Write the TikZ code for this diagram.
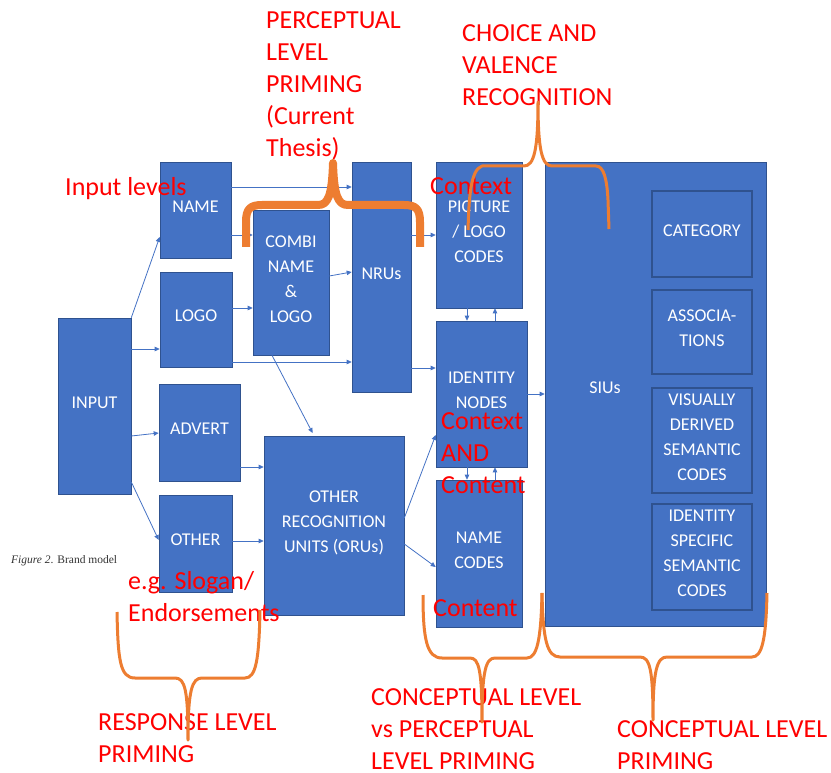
\documentclass[tikz,border=0pt]{standalone}
\usepackage{fontspec}
\setmainfont{Carlito}
\newfontfamily\capfont{Liberation Serif}
\usetikzlibrary{arrows.meta}
\definecolor{boxblue}{HTML}{4472C4}
\definecolor{boxedge}{HTML}{2F528F}
\definecolor{bracketorange}{HTML}{ED7D31}
\definecolor{annred}{HTML}{FF0000}
\tikzset{
  box/.style={rectangle, fill=boxblue, draw=boxedge, line width=0.6pt, inner sep=0pt,
    text=white, align=center, font=\fontsize{18}{25}\selectfont,
    execute at end node={\rule[-7pt]{0pt}{7pt}}},
  innerbox/.style={box, line width=1.4pt},
  arr/.style={draw=boxblue, line width=0.8pt, -{Triangle[length=5pt,width=4.5pt]}},
  redtxt/.style={text=annred, align=left, inner sep=0pt, anchor=north west,
    font=\fontsize{26}{32}\selectfont},
  brace/.style={draw=bracketorange, line width=3pt, line join=round},
  bigbrace/.style={draw=bracketorange, line width=8pt, line join=round},
}
\begin{document}
\begin{tikzpicture}[x=1pt,y=-1pt]
\useasboundingbox (0,0) rectangle (831,773);
% boxes
\node[box, minimum width=73pt, minimum height=176pt] (input) at (94.5,406) {INPUT};
\node[box, minimum width=71pt, minimum height=96pt] (name) at (195.5,210) {NAME};
\node[box, minimum width=72pt, minimum height=95pt] (logo) at (196,319.5) {LOGO};
\node[box, minimum width=81pt, minimum height=97pt] (advert) at (199.5,432.5) {ADVERT};
\node[box, minimum width=73pt, minimum height=97pt] (other) at (195.5,543.5) {OTHER};
\node[box, minimum width=76pt, minimum height=145pt] (combi) at (291,282.5) {COMBI\\NAME\\\&\\LOGO};
\node[box, minimum width=59pt, minimum height=230pt] (nru) at (381.5,277) {NRUs};
\node[box, minimum width=140pt, minimum height=179pt] (oru) at (334,525.5) {OTHER\\RECOGNITION\\UNITS (ORUs)};
\node[box, minimum width=86pt, minimum height=146pt] (pict) at (479,235) {PICTURE\\/ LOGO\\CODES};
\node[box, minimum width=91pt, minimum height=146pt] (ident) at (481.5,394) {IDENTITY\\NODES};
\node[box, minimum width=86pt, minimum height=147pt] (namec) at (479,553.5) {NAME\\CODES};
\node[box, minimum width=221pt, minimum height=464pt] (siu) at (655.5,394) {};
\node[text=white, font=\fontsize{18}{25}\selectfont, inner sep=0pt] (siulabel) at (605,388) {SIUs};
\node[innerbox, minimum width=100pt, minimum height=86pt] (cat) at (702,234) {CATEGORY};
\node[innerbox, minimum width=100pt, minimum height=84pt] (assoc) at (702,332) {ASSOCIA-\\TIONS};
\node[innerbox, minimum width=100pt, minimum height=105pt] (vis) at (702,440.5) {VISUALLY\\DERIVED\\SEMANTIC\\CODES};
\node[innerbox, minimum width=100pt, minimum height=106pt] (ids) at (702,557) {IDENTITY\\SPECIFIC\\SEMANTIC\\CODES};
% caption
\node[anchor=west, inner sep=0pt, text=black!80, font=\capfont\fontsize{11.5}{13}\selectfont] (caption) at (11,561) {\textit{Figure 2}. Brand model};
% connectors
\draw[arr] (input.north east) -- (name.west |- 0,237);
\draw[arr] (input.east |- 0,349) -- (logo.west |- 0,349);
\draw[arr] (input.east |- 0,436) -- (advert.west |- 0,433);
\draw[arr] (input.east |- 0,482) -- (other.west |- 0,540);
\draw[arr] (name.east |- 0,187) -- (nru.west |- 0,187);
\draw[arr] (name.east |- 0,235) -- (combi.west |- 0,235);
\draw[arr] (logo.east |- 0,308) -- (combi.west |- 0,308);
\draw[arr] (logo.east |- 0,362) -- (nru.west |- 0,362);
\draw[arr] (combi.east |- 0,276) -- (nru.west |- 0,272);
\draw[arr, shorten >=3pt] (combi.south -| 272,0) -- (oru.north -| 314,0);
\draw[arr] (nru.east |- 0,235) -- (pict.west |- 0,235);
\draw[arr] (nru.east |- 0,368) -- (ident.west |- 0,368);
\draw[arr] (pict.south -| 467,0) -- (ident.north -| 467,0);
\draw[arr] (ident.north -| 495,0) -- (pict.south -| 495,0);
\draw[arr] (ident.east |- 0,394) -- (siu.west |- 0,394);
\draw[arr] (ident.south -| 467,0) -- (namec.north -| 467,0);
\draw[arr] (namec.north -| 495,0) -- (ident.south -| 495,0);
\draw[arr] (advert.east |- 0,467) -- (oru.west |- 0,467);
\draw[arr] (other.east |- 0,541) -- (oru.west |- 0,541);
\draw[arr] (oru.east |- 0,518) -- (ident.west |- 0,435);
\draw[arr] (oru.east |- 0,544) -- (namec.west |- 0,567);
% red annotations
\node[redtxt] (tperc) at (266,11.5) {PERCEPTUAL\\LEVEL\\PRIMING\\(Current\\Thesis)};
\node[redtxt] (tchoice) at (462,24.5) {CHOICE AND\\VALENCE\\RECOGNITION};
\node[redtxt] (tinput) at (65,177) {Input levels};
\node[redtxt] (tctx) at (430,177) {Context};
\node[redtxt] (tctxand) at (441,412) {Context\\AND\\Content};
\node[redtxt] (tcontent) at (433,599) {Content};
\node[redtxt] (tslogan) at (128,571) {e.g. Slogan/\\Endorsements};
\node[redtxt] (tresp) at (98,713) {RESPONSE LEVEL\\PRIMING};
\node[redtxt] (tcvp) at (371,688.5) {CONCEPTUAL LEVEL\\vs PERCEPTUAL\\LEVEL PRIMING};
\node[redtxt] (tconc) at (617,720.5) {CONCEPTUAL LEVEL\\PRIMING};
% orange brackets
\draw[bigbrace] (246,247) -- (246,222) .. controls (246,209) and (250,205) .. (262,205) -- (318,205) .. controls (328,205) and (332,196) .. (333,163) .. controls (334,196) and (338,205) .. (348,205) -- (404,205) .. controls (416,205) and (420,209) .. (420,222) -- (420,247);
\draw[brace] (468,230) .. controls (469,200) and (470,170) .. (482,166) -- (524,166) .. controls (534,166) and (538,150) .. (538,102) .. controls (538,150) and (542,166) .. (552,166) -- (596,166) .. controls (604,166) and (607,180) .. (608,200) -- (609,229);
\draw[brace] (117,612) .. controls (118,660) and (120,678) .. (135,678) -- (175,678) .. controls (185,678) and (188,690) .. (188,740) .. controls (188,690) and (192,678) .. (202,678) -- (245,678) .. controls (256,678) and (259,660) .. (260,610);
\draw[brace] (423,595) .. controls (423,640) and (427,658) .. (442,658) -- (470,658) .. controls (479,658) and (482,670) .. (482,722) .. controls (482,670) and (486,658) .. (495,658) -- (527,658) .. controls (537,658) and (541,640) .. (542,593);
\draw[brace] (542,593) .. controls (543,640) and (547,657) .. (560,657) -- (640,657) .. controls (650,657) and (653,670) .. (653,720) .. controls (653,670) and (657,657) .. (667,657) -- (752,657) .. controls (762,657) and (766,640) .. (767,593);
\end{tikzpicture}
\end{document}
